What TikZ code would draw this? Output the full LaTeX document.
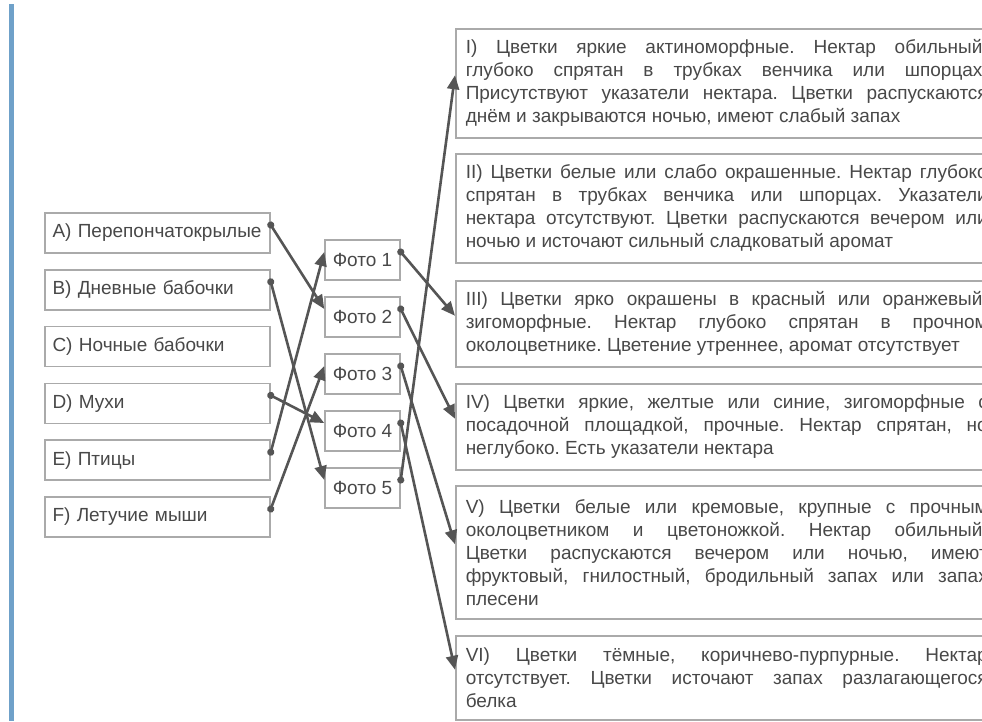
\documentclass[tikz,border=0pt]{standalone}
\usepackage{fontspec}
\setmainfont{Liberation Sans}
\usetikzlibrary{arrows.meta, positioning}
\definecolor{cBar}{RGB}{111,161,201}
\definecolor{cFrame}{RGB}{170,170,170}
\definecolor{cText}{RGB}{72,72,72}
\definecolor{cLink}{RGB}{85,85,85}
\frenchspacing
\tikzset{
	grp/.style={rectangle, draw=cFrame, line width=1.5pt, minimum height=40pt, text width=210pt, inner xsep=7.5pt, align=left, text=cText, font=\fontsize{19}{23}\selectfont},
	foto/.style={rectangle, draw=cFrame, line width=1.5pt, minimum width=75pt, minimum height=40pt, inner sep=2pt, text=cText, font=\fontsize{19}{23}\selectfont},
	desc/.style={rectangle, draw=cFrame, line width=1.5pt, anchor=north west, text width=522pt, inner xsep=10pt, inner ysep=2pt, align=justify, text=cText, font=\fontsize{19}{23}\selectfont, execute at begin node={\hyphenpenalty=10000 \tolerance=10000 }},
	% dot at the start, arrow at the end
	link/.style={{Circle[length=7pt]}-{Triangle[length=14pt, width=12pt]}, shorten <=-3.5pt, line width=2.6pt, draw=cLink},
}
\begin{document}
\begin{tikzpicture}[x=1pt, y=-1pt]
\useasboundingbox (0,0) rectangle (982,721);
\fill[cBar] (9,4) rectangle (14,721);
\foreach \lab/\txt/\idx in {A/{A) Перепончатокрылые}/0, B/{B) Дневные бабочки}/1, C/{C) Ночные бабочки}/2, D/{D) Мухи}/3, E/{E) Птицы}/4, F/{F) Летучие мыши}/5} {
	\node[grp] (\lab) at (157.5, 233+56.8*\idx) {\txt};
}
\foreach \idx in {1,...,5} {
	\node[foto] (foto\idx) at (362.5, 203+57*\idx) {Фото \idx};
}
\node[desc, minimum height=109pt] (syn1) at (455,28) {I) Цветки яркие актиноморфные. Нектар обильный,\linebreak глубоко спрятан в трубках венчика или шпорцах.\linebreak Присутствуют указатели нектара. Цветки распускаются\linebreak днём и закрываются ночью, имеют слабый запах};
\node[desc, minimum height=109pt] (syn2) at (455,153) {II) Цветки белые или слабо окрашенные. Нектар глубоко\linebreak спрятан в трубках венчика или шпорцах. Указатели\linebreak нектара отсутствуют. Цветки распускаются вечером или\linebreak ночью и источают сильный сладковатый аромат};
\node[desc, minimum height=86pt] (syn3) at (455,280) {III) Цветки ярко окрашены в красный или оранжевый,\linebreak зигоморфные. Нектар глубоко спрятан в прочном\linebreak околоцветнике. Цветение утреннее, аромат отсутствует};
\node[desc, minimum height=86pt] (syn4) at (455,383) {IV) Цветки яркие, желтые или синие, зигоморфные с\linebreak посадочной площадкой, прочные. Нектар спрятан, но\linebreak неглубоко. Есть указатели нектара};
\node[desc, minimum height=133pt] (syn5) at (455,485) {V) Цветки белые или кремовые, крупные с прочным\linebreak околоцветником и цветоножкой. Нектар обильный.\linebreak Цветки распускаются вечером или ночью, имеют\linebreak фруктовый, гнилостный, бродильный запах или запах\linebreak плесени};
\node[desc, minimum height=84pt] (syn6) at (455,635) {VI) Цветки тёмные, коричнево-пурпурные. Нектар\linebreak отсутствует. Цветки источают запах разлагающегося\linebreak белка};
\draw[link] ([yshift=8pt]A.east) -- ([yshift=8pt]foto2.west);
\draw[link] ([yshift=8pt]B.east) -- ([yshift=8pt]foto5.west);
\draw[link] ([yshift=8pt]D.east) -- ([yshift=8pt]foto4.west);
\draw[link] ([yshift=8pt]E.east) -- ([yshift=8pt]foto1.west);
\draw[link] ([yshift=8pt]F.east) -- ([yshift=8pt]foto3.west);
\draw[link] ([yshift=8pt]foto1.east) -- ([yshift=8pt]syn3.west);
\draw[link] ([yshift=8pt]foto2.east) -- ([yshift=8pt]syn4.west);
\draw[link] ([yshift=8pt]foto3.east) -- ([yshift=8pt]syn5.west);
\draw[link] ([yshift=8pt]foto4.east) -- ([yshift=8pt]syn6.west);
\draw[link] ([yshift=8pt]foto5.east) -- ([yshift=8pt]syn1.west);
\end{tikzpicture}
\end{document}
